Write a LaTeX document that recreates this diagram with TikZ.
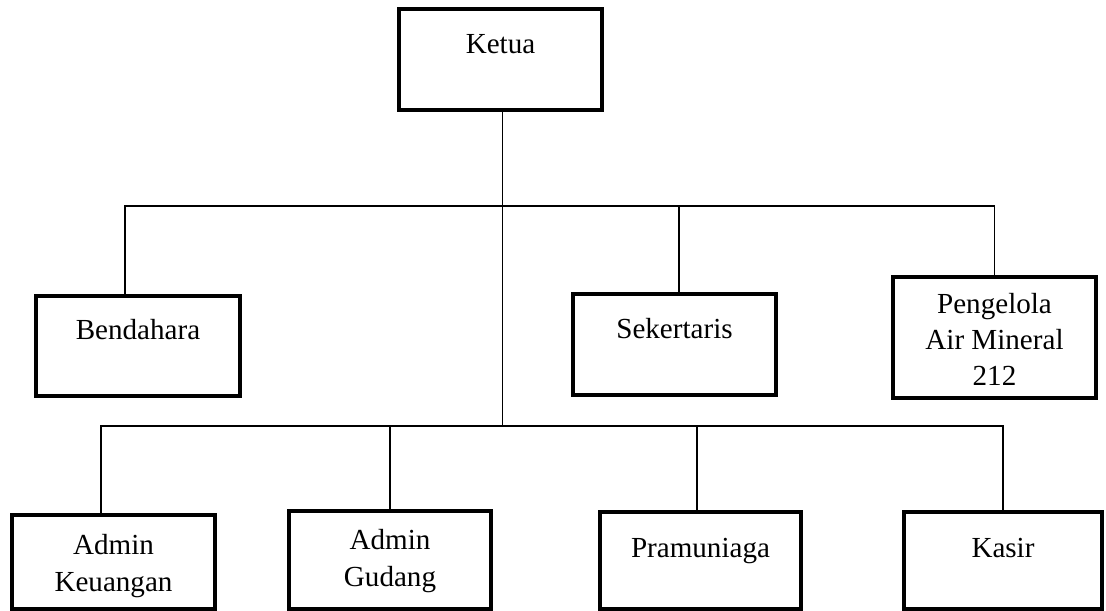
\documentclass[tikz,border=0pt]{standalone}
\usepackage{fontspec}
\setmainfont{Liberation Serif}
\usetikzlibrary{positioning, calc}
\def\u{0.0145cm}

\begin{document}
\begin{tikzpicture}[x=0.0145cm, y=-0.0145cm,
  kotak/.style 2 args={draw, line width=1.9pt, inner sep=0pt, minimum width=#1*\u, minimum height=#2*\u},
  teks/.style={anchor=base, align=center, inner sep=0pt, font=\fontsize{12}{14.85}\selectfont},
  garis/.style={line width=0.8pt}]
\useasboundingbox (0,0) rectangle (1106,611);
\coordinate (bus1) at (0,206);
\coordinate (bus2) at (0,426);
\node[kotak={203}{101}] (ketua) at (500.5,59.5) {};
\node[kotak={204}{100}] (bendahara) at (138,346) {};
\node[kotak={203}{101}] (sekertaris) at (674.5,344.5) {};
\node[kotak={203}{121}] (pengelola) at (994.5,337.5) {};
\node[kotak={203}{94}] (adminkeu) at (113.5,562) {};
\node[kotak={202}{98}] (admingud) at (390,560) {};
\node[kotak={201}{97}] (pramuniaga) at (700.5,560.5) {};
\node[kotak={198}{97}] (kasir) at (1003,560.5) {};
\node[teks] (tketua) at (500.5,54) {Ketua};
\node[teks] (tbendahara) at (138,340) {Bendahara};
\node[teks] (tsekertaris) at (674.5,339) {Sekertaris};
\node[teks] (tpengelola) at (994.5,386) {Pengelola\\Air Mineral\\212};
\node[teks] (tadminkeu) at (113.5,591) {Admin\\Keuangan};
\node[teks] (tadmingud) at (390,586) {Admin\\Gudang};
\node[teks] (tpramuniaga) at (700.5,557) {Pramuniaga};
\node[teks] (tkasir) at (1003,557) {Kasir};
\draw[garis] ($(ketua.south)+(2,0)$) coordinate (k) -- (k |- bus2);
\draw[garis] ($(bendahara.north)+(-13,0)$) |- (pengelola.north |- bus1) -- (pengelola.north);
\draw[garis] ($(sekertaris.north)+(4.5,0)$) coordinate (s) -- (s |- bus1);
\draw[garis] ($(adminkeu.north)+(-12.5,0)$) |- (kasir.north |- bus2) -- (kasir.north);
\draw[garis] (admingud.north) -- (admingud.north |- bus2);
\draw[garis] ($(pramuniaga.north)+(-3.5,0)$) coordinate (p) -- (p |- bus2);
\end{tikzpicture}
\end{document}
